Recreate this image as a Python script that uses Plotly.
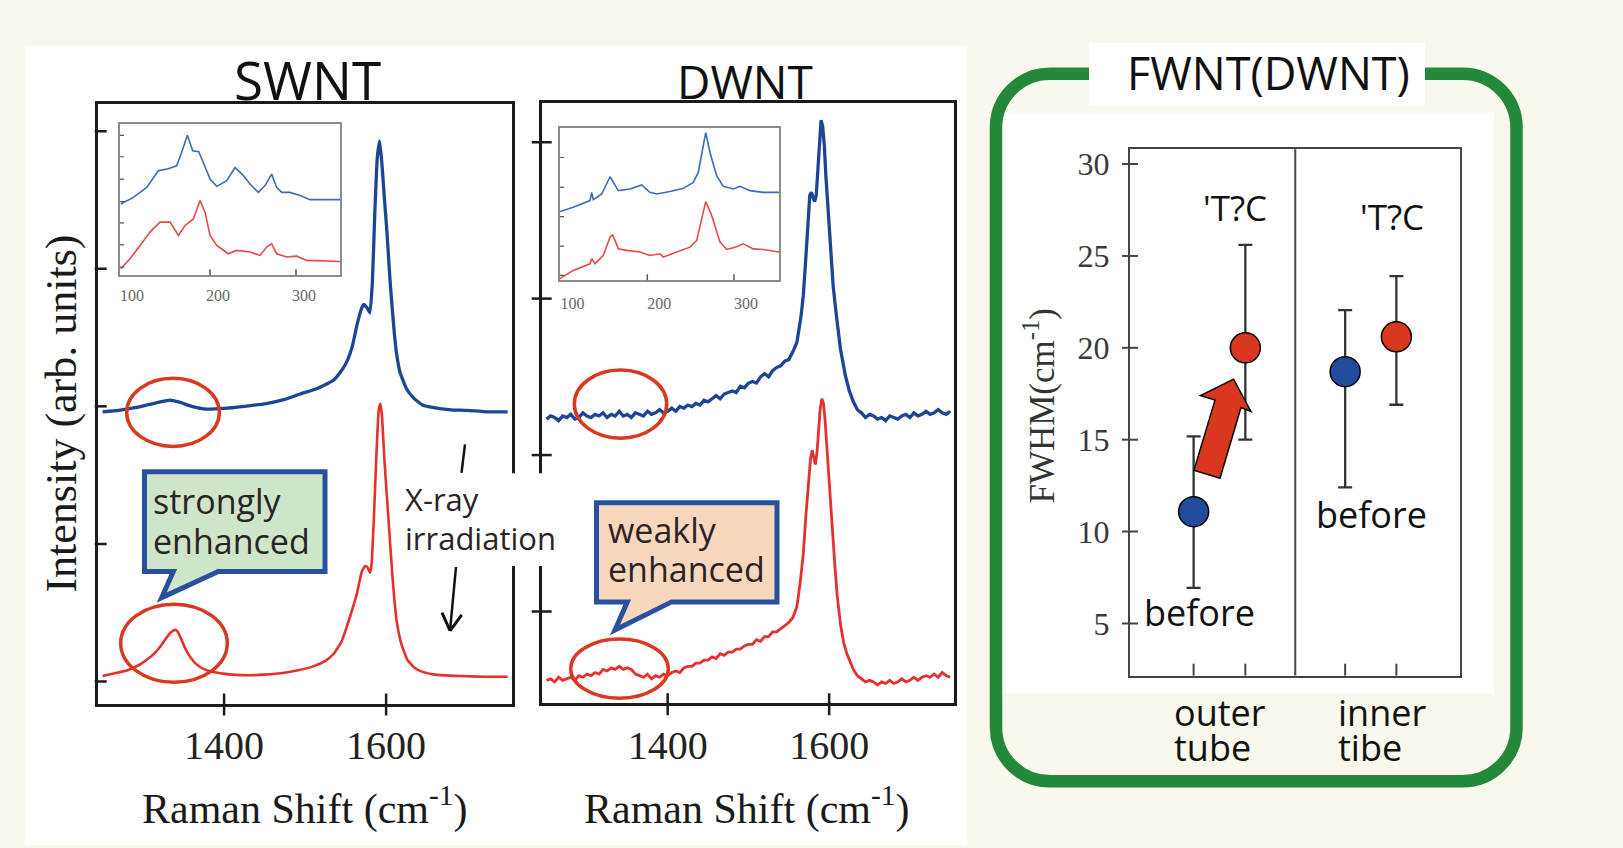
import plotly.graph_objects as go

W, H = 1623, 848

# ---------------- data ----------------
# SWNT G/D region, before irradiation (blue) and after (red); intensity in axis-tick units
swnt_pristine_x = [1250,1270,1290,1305,1320,1333,1345,1360,1378,1400,1425,1452,1475,1494,1515,1535,1545,1552,1558,1564,
                   1569,1572,1576,1580,1583,1586,1589,1592,1595,1598,1601,1605,1610,1613,1617,1625,1634,1645,1659,1680,
                   1700,1725,1750]
swnt_pristine_y = [1.96,1.97,1.99,2.01,2.03,2.045,2.03,2.0,1.98,1.985,2.0,2.02,2.05,2.09,2.13,2.19,2.26,2.33,2.43,2.59,
                   2.70,2.74,2.72,2.68,2.9,3.4,3.8,3.93,3.75,3.5,3.27,2.9,2.54,2.38,2.25,2.13,2.06,2.01,1.99,1.975,
                   1.97,1.96,1.96]
swnt_irr_x = [1250,1265,1280,1295,1305,1315,1322,1328,1333,1337,1340,1343,1347,1352,1358,1365,1375,1390,1410,1430,
              1450,1470,1490,1510,1525,1535,1545,1551,1557,1564,1570,1574,1577,1580,1582,1585,1588,1591,1593,1595,
              1598,1603,1608,1613,1619,1626,1635,1645,1660,1690,1720,1750]
swnt_irr_y = [0.04,0.06,0.08,0.12,0.16,0.21,0.26,0.31,0.35,0.37,0.375,0.36,0.31,0.24,0.18,0.13,0.09,0.065,0.05,0.045,
              0.05,0.06,0.08,0.11,0.15,0.20,0.29,0.39,0.50,0.64,0.80,0.84,0.83,0.79,0.85,1.2,1.65,1.98,2.02,1.92,
              1.6,1.17,0.75,0.44,0.27,0.16,0.10,0.07,0.05,0.04,0.035,0.035]

# DWNT G/D region
dwnt_pristine_x = [1250,1255,1260,1265,1270,1275,1280,1285,1290,1295,1300,1305,1310,1315,1320,1325,1330,1335,1340,1345,
                   1350,1355,1360,1365,1370,1375,1380,1385,1390,1395,1400,1405,1410,1415,1420,1425,1430,1435,1440,1445,
                   1450,1455,1460,1465,1470,1475,1480,1485,1490,1495,1500,1505,1510,1515,1520,1525,1530,1535,1540,1545,
                   1550,1555,1560,
                   1565,1568,1571,1574,1576,1578,1580,1582,1584,1586,1588,1590,1592,1594,1596,1599,1602,1605,1609,1614,
                   1620,1625,1630,1635,1640,1645,1650,1655,1660,1665,1670,1675,1680,1685,1690,1695,1700,1705,1710,1715,
                   1720,1725,1730,1735,1740,1745,1750]
dwnt_pristine_y = [1.23,1.25,1.24,1.22,1.25,1.24,1.26,1.23,1.24,1.27,1.25,1.24,1.26,1.25,1.27,1.24,1.26,1.25,1.28,1.25,
                   1.26,1.24,1.27,1.26,1.25,1.28,1.26,1.27,1.29,1.27,1.28,1.30,1.28,1.31,1.30,1.32,1.31,1.33,1.32,1.35,
                   1.34,1.36,1.38,1.36,1.39,1.40,1.41,1.40,1.44,1.43,1.46,1.47,1.46,1.50,1.52,1.50,1.54,1.56,1.57,1.60,
                   1.61,1.66,1.72,
                   1.88,2.02,2.25,2.51,2.66,2.68,2.65,2.62,2.66,2.85,3.02,3.14,3.10,2.98,2.78,2.53,2.28,2.08,1.89,1.68,
                   1.51,1.41,1.34,1.29,1.27,1.24,1.26,1.25,1.23,1.24,1.22,1.25,1.24,1.23,1.25,1.26,1.24,1.27,1.25,1.26,
                   1.28,1.26,1.27,1.29,1.27,1.26,1.28]
dwnt_irr_x = [1250,1255,1260,1265,1270,1275,1280,1285,1290,1295,1300,1305,1310,1315,1320,1325,1330,1335,1340,1345,
              1350,1355,1360,1365,1370,1375,1380,1385,1390,1395,1400,1405,1410,1415,1420,1425,1430,1435,1440,1445,
              1450,1455,1460,1465,1470,1475,1480,1485,1490,1495,1500,1505,1510,1515,1520,1525,1530,1535,1540,1545,
              1550,1555,1560,
              1564,1568,1571,1574,1577,1579,1581,1583,1585,1587,1589,1591,1593,1595,1598,1601,1604,1607,1610,1614,
              1618,1622,1626,1630,1635,
              1640,1645,1650,1655,1660,1665,1670,1675,1680,1685,1690,1695,1700,1705,1710,1715,1720,1725,1730,1735,
              1740,1745,1750]
dwnt_irr_y = [-0.44,-0.43,-0.45,-0.42,-0.44,-0.43,-0.42,-0.44,-0.41,-0.42,-0.40,-0.41,-0.39,-0.40,-0.37,-0.38,-0.36,-0.37,-0.35,-0.37,
              -0.36,-0.37,-0.40,-0.41,-0.42,-0.40,-0.43,-0.41,-0.42,-0.40,-0.41,-0.39,-0.38,-0.39,-0.36,-0.35,-0.35,-0.33,-0.33,-0.31,
              -0.31,-0.29,-0.30,-0.27,-0.28,-0.26,-0.26,-0.24,-0.24,-0.22,-0.21,-0.21,-0.18,-0.19,-0.16,-0.16,-0.13,-0.13,-0.11,-0.09,
              -0.07,-0.04,0.03,
              0.18,0.37,0.60,0.79,0.98,1.03,0.99,0.94,1.02,1.18,1.30,1.36,1.33,1.22,0.98,0.74,0.52,0.30,0.10,-0.08,
              -0.20,-0.27,-0.32,-0.37,-0.41,
              -0.43,-0.45,-0.44,-0.45,-0.47,-0.45,-0.46,-0.44,-0.46,-0.45,-0.43,-0.45,-0.44,-0.42,-0.44,-0.42,-0.41,-0.42,-0.40,-0.42,
              -0.39,-0.41,-0.42]

# RBM insets (normalised intensity)
swnt_rbm_pristine_x = [96.2,110.8,126.4,139.9,149.6,161.2,167.0,173.6,179.9,186.9,192.2,200,207.8,219.4,229.1,238.8,246.5,256.2,264,271.7,
                       277.5,283.4,293,304.7,316.3,335.7,351.2]
swnt_rbm_pristine_y = [0.472,0.516,0.582,0.692,0.703,0.725,0.813,0.927,0.824,0.818,0.747,0.637,0.589,0.627,0.714,0.66,0.604,0.549,0.594,0.67,
                       0.582,0.549,0.549,0.528,0.501,0.501,0.501]
swnt_rbm_irr_x = [96.2,107.0,118.6,130.2,141.9,153.5,163.2,170.9,180.6,188.4,194.2,200,207.8,221.3,231,246.5,258.1,265.9,271.7,277.5,
                  289.2,300.8,312.4,335.7,351.2]
swnt_rbm_irr_y = [0.044,0.11,0.198,0.286,0.352,0.352,0.264,0.33,0.373,0.495,0.418,0.264,0.198,0.143,0.165,0.154,0.132,0.187,0.209,0.143,
                  0.121,0.127,0.099,0.094,0.092]
dwnt_rbm_pristine_x = [99.3,114.6,133.9,135.9,137.7,147.4,157,164.7,166.6,180,193.5,203.1,210.8,226.2,241.5,253.1,258.8,264.6,267.4,272.3,
                       280,287.7,299.2,306.9,318.5,333.8,352.3]
dwnt_rbm_pristine_y = [0.45,0.478,0.522,0.576,0.528,0.565,0.678,0.609,0.587,0.598,0.624,0.576,0.565,0.581,0.602,0.641,0.706,0.881,0.967,0.837,
                       0.685,0.615,0.598,0.615,0.587,0.576,0.576]
dwnt_rbm_irr_x = [99.3,114.6,133.9,135.9,139.7,149.3,157,160.1,166.6,176.2,191.6,203.1,214.6,218.5,233.9,249.3,257,262.7,267.4,274.3,
                  283.9,291.6,301.2,310.7,322.3,333.8,352.3]
dwnt_rbm_irr_y = [0.011,0.065,0.108,0.141,0.108,0.163,0.282,0.297,0.206,0.196,0.185,0.163,0.174,0.152,0.185,0.217,0.261,0.402,0.515,0.424,
                  0.25,0.202,0.217,0.239,0.206,0.202,0.185]

main_xticks = [1400, 1600]
swnt_yticks = [0, 1, 2, 3, 4]
dwnt_yticks = [0, 1, 2, 3]
inset_xticks = [100, 200, 300]
swnt_inset_yticks = [0.055, 0.202, 0.347, 0.488, 0.637, 0.785, 0.927]
dwnt_inset_yticks = [0.033, 0.224, 0.417, 0.609, 0.804]

# FWHM panel
fwhm_groups = ["outer tube", "inner tibe"]
fwhm_pos_before = [1.0, 3.93]
fwhm_pos_after = [2.0, 4.92]
fwhm_before = [11.08, 18.7]
fwhm_before_plus = [4.1, 3.35]
fwhm_before_minus = [4.15, 6.3]
fwhm_after = [20.0, 20.6]
fwhm_after_plus = [5.6, 3.3]
fwhm_after_minus = [5.0, 3.7]
fwhm_yticks = [5, 10, 15, 20, 25, 30]

# ---------------- style ----------------
SANS = "Open Sans"
SERIF = "Liberation Serif"
INK = "#1b1b1b"
BLUE = "#1d4596"
RED = "#e5302b"
IBLUE = "#3d6bb8"
IRED = "#e64a48"
ELL = "#d83a1f"
CREAM = "#f8f8ec"
GREEN = "#24883b"
TXT = "#2b2324"


def PX(x):
    return x / W


def PY(y):
    return 1 - y / H


def dx(a, b):
    return [a / W, b / W]


def dy(top, bottom):
    return [1 - bottom / H, 1 - top / H]


def pt(x, y):
    return f"{PX(x):.5f},{PY(y):.5f}"


fig = go.Figure()

# main spectra
fig.add_trace(go.Scatter(x=swnt_pristine_x, y=swnt_pristine_y, mode="lines",
                         line=dict(color=BLUE, width=3.3, shape="spline", smoothing=0.4), xaxis="x", yaxis="y"))
fig.add_trace(go.Scatter(x=swnt_irr_x, y=swnt_irr_y, mode="lines",
                         line=dict(color=RED, width=2.6, shape="spline", smoothing=0.4), xaxis="x", yaxis="y"))
fig.add_trace(go.Scatter(x=dwnt_pristine_x, y=dwnt_pristine_y, mode="lines",
                         line=dict(color=BLUE, width=3.3), xaxis="x3", yaxis="y3"))
fig.add_trace(go.Scatter(x=dwnt_irr_x, y=dwnt_irr_y, mode="lines",
                         line=dict(color=RED, width=2.8), xaxis="x3", yaxis="y3"))
# insets
for xs, ys, c, xa, ya in [(swnt_rbm_pristine_x, swnt_rbm_pristine_y, IBLUE, "x2", "y2"),
                          (swnt_rbm_irr_x, swnt_rbm_irr_y, IRED, "x2", "y2"),
                          (dwnt_rbm_pristine_x, dwnt_rbm_pristine_y, IBLUE, "x4", "y4"),
                          (dwnt_rbm_irr_x, dwnt_rbm_irr_y, IRED, "x4", "y4")]:
    fig.add_trace(go.Scatter(x=xs, y=ys, mode="lines", line=dict(color=c, width=1.6),
                             xaxis=xa, yaxis=ya))

# FWHM points
fig.add_trace(go.Scatter(x=fwhm_pos_before, y=fwhm_before, mode="markers", name="before",
                         marker=dict(size=30, color="#234b9b", line=dict(color="black", width=1.5)),
                         error_y=dict(type="data", symmetric=False, array=fwhm_before_plus,
                                      arrayminus=fwhm_before_minus, color="#333333", thickness=2.3, width=7),
                         xaxis="x5", yaxis="y5"))
fig.add_trace(go.Scatter(x=fwhm_pos_after, y=fwhm_after, mode="markers", name="after",
                         marker=dict(size=30, color="#d9381e", line=dict(color="black", width=1.5)),
                         error_y=dict(type="data", symmetric=False, array=fwhm_after_plus,
                                      arrayminus=fwhm_after_minus, color="#333333", thickness=2.3, width=7),
                         xaxis="x5", yaxis="y5"))

common = dict(showgrid=False, zeroline=False, ticks="", showline=True, mirror=True)

layout_axes = dict(
    xaxis=dict(domain=dx(97.7, 511.7), range=[1244, 1755], anchor="y", linecolor=INK, linewidth=2.5,
               tickvals=main_xticks, tickfont=dict(family=SERIF, size=40, color="#222"),
               ticklabelstandoff=5, **common),
    yaxis=dict(domain=dy(101, 703), range=[-0.16, 4.2], anchor="x", linecolor=INK, linewidth=2.5,
               showticklabels=False, **common),
    xaxis2=dict(domain=dx(120, 340), range=[95.3, 351.2], anchor="y2", linecolor="#8c8c8c", linewidth=1.5,
                tickvals=inset_xticks, tickfont=dict(family=SERIF, size=16, color="#666"),
                ticklabelshift=8, ticklabelstandoff=5, **common),
    yaxis2=dict(domain=dy(121.7, 273.3), range=[0, 1], anchor="x2", linecolor="#8c8c8c", linewidth=1.5,
                showticklabels=False, **common),
    xaxis3=dict(domain=dx(541.7, 954.3), range=[1244, 1755], anchor="y3", linecolor=INK, linewidth=2.5,
                tickvals=main_xticks, tickfont=dict(family=SERIF, size=40, color="#222"),
                ticklabelstandoff=5, **common),
    yaxis3=dict(domain=dy(100.7, 702.7), range=[-0.586, 3.248], anchor="x3", linecolor=INK, linewidth=2.5,
                showticklabels=False, **common),
    xaxis4=dict(domain=dx(560, 779.3), range=[99.3, 352.3], anchor="y4", linecolor="#8c8c8c", linewidth=1.5,
                tickvals=inset_xticks, tickfont=dict(family=SERIF, size=16, color="#666"),
                ticklabelshift=12, ticklabelstandoff=8, **common),
    yaxis4=dict(domain=dy(125, 278.3), range=[0, 1], anchor="x4", linecolor="#8c8c8c", linewidth=1.5,
                showticklabels=False, **common),
    xaxis5=dict(domain=dx(1130, 1460), range=[-0.23, 6.15], anchor="y5", linecolor="#444", linewidth=2,
                showticklabels=False, **common),
    yaxis5=dict(domain=dy(146.7, 675), range=[2.16, 30.81], anchor="x5", linecolor="#444", linewidth=2,
                tickvals=fwhm_yticks, tickfont=dict(family=SERIF, size=32, color="#3a3a3a"),
                ticklabelstandoff=12, **common),
)

shapes = []
# backgrounds
shapes.append(dict(type="rect", xref="paper", yref="paper", x0=PX(25), x1=PX(967), y0=PY(845), y1=PY(43),
                   fillcolor="white", line=dict(width=0), layer="below"))
shapes.append(dict(type="rect", xref="paper", yref="paper", x0=PX(1001), x1=PX(1494), y0=PY(693), y1=PY(110),
                   fillcolor="white", line=dict(width=0), layer="below"))
# green rounded frame
L, R, T, B, r = 996, 1516.5, 71, 781, 54
k = 0.5523 * r
gpath = (f"M {pt(L + r, T)} L {pt(R - r, T)} C {pt(R - r + k, T)} {pt(R, T + r - k)} {pt(R, T + r)} "
         f"L {pt(R, B - r)} C {pt(R, B - r + k)} {pt(R - r + k, B)} {pt(R - r, B)} "
         f"L {pt(L + r, B)} C {pt(L + r - k, B)} {pt(L, B - r + k)} {pt(L, B - r)} "
         f"L {pt(L, T + r)} C {pt(L, T + r - k)} {pt(L + r - k, T)} {pt(L + r, T)} Z")
shapes.append(dict(type="path", xref="paper", yref="paper", path=gpath, line=dict(color=GREEN, width=12.5),
                   layer="below"))
shapes.append(dict(type="rect", xref="paper", yref="paper", x0=PX(1089), x1=PX(1425), y0=PY(103), y1=PY(40),
                   fillcolor="white", line=dict(width=0), layer="below"))


# tick marks (crossing the axes)
def yticks(xa, ya, vals, out_px, in_px, width_px, color, w):
    for v in vals:
        shapes.append(dict(type="line", xref=f"{xa} domain", yref=ya, x0=-out_px / width_px, x1=in_px / width_px,
                           y0=v, y1=v, line=dict(color=color, width=w)))


def xticks(xa, ya, vals, out_px, in_px, height_px, color, w):
    for v in vals:
        shapes.append(dict(type="line", xref=xa, yref=f"{ya} domain", x0=v, x1=v, y0=-out_px / height_px,
                           y1=in_px / height_px, line=dict(color=color, width=w)))


yticks("x", "y", swnt_yticks, 3, 9, 414, INK, 2.5)
xticks("x", "y", main_xticks, 12, 10, 602, INK, 2.5)
yticks("x3", "y3", dwnt_yticks, 10, 10, 412.6, INK, 2.5)
xticks("x3", "y3", main_xticks, 12, 10, 602, INK, 2.5)
yticks("x2", "y2", swnt_inset_yticks, 0, 4, 220, "#555", 1.2)
xticks("x2", "y2", inset_xticks[1:], 0, 6, 151.6, "#555", 1.5)
yticks("x4", "y4", dwnt_inset_yticks, 0, 4, 219.3, "#555", 1.2)
xticks("x4", "y4", inset_xticks[1:], 0, 6, 153.3, "#555", 1.5)
yticks("x5", "y5", fwhm_yticks, 8, 8, 330, "#444", 2)
xticks("x5", "y5", fwhm_pos_before + fwhm_pos_after, 0, 12, 528.3, "#444", 2)
# divider between outer / inner groups
shapes.append(dict(type="line", xref="x5", yref="y5 domain", x0=(fwhm_pos_after[0] + fwhm_pos_before[1]) / 2,
                   x1=(fwhm_pos_after[0] + fwhm_pos_before[1]) / 2, y0=0, y1=1, line=dict(color="#444", width=2)))

# red ellipses
for (x0, y0, x1, y1) in [(126.7, 376.7, 219.3, 445), (120.7, 603.3, 227.3, 681.7),
                         (574.3, 368.3, 666.7, 436.7), (570.7, 638.3, 668.3, 697.7)]:
    shapes.append(dict(type="circle", xref="paper", yref="paper", x0=PX(x0), x1=PX(x1), y0=PY(y1), y1=PY(y0),
                       line=dict(color=ELL, width=3.5), layer="above"))


# callouts
def callout(l, t, rr, b, tail, fill):
    p = (f"M {pt(l, t)} L {pt(rr, t)} L {pt(rr, b)} L {pt(tail[2], b)} L {pt(tail[0], tail[1])} "
         f"L {pt(tail[3], b)} L {pt(l, b)} Z")
    shapes.append(dict(type="path", xref="paper", yref="paper", path=p, fillcolor=fill,
                       line=dict(color="#28509f", width=5), layer="above"))


callout(144.5, 470.5, 325, 570.5, (161.7, 596.7, 218.3, 173.3), "#cfe5c9")
callout(596.5, 501.5, 777, 601, (615, 629.3, 671.7, 627.3), "#f8d8bd")

# X-ray label backdrop and arrows
shapes.append(dict(type="rect", xref="paper", yref="paper", x0=PX(398), x1=PX(568), y0=PY(565), y1=PY(472),
                   fillcolor="white", line=dict(width=0), layer="above"))
for (x0, y0, x1, y1, w) in [(465, 443, 461.5, 471.5, 2.5), (456, 566, 450, 630, 2.5),
                            (442, 611.7, 450, 630, 3), (461.7, 614, 450, 630, 3)]:
    shapes.append(dict(type="line", xref="paper", yref="paper", x0=PX(x0), y0=PY(y0), x1=PX(x1), y1=PY(y1),
                       line=dict(color="#111", width=w), layer="above"))

# red block arrow in FWHM panel
arrow_pts = [(1233.5, 377.5), (1251, 410), (1241, 406), (1220, 477), (1194, 469), (1215, 398.5), (1200.5, 394)]
apath = "M " + " L ".join(pt(x, y) for x, y in arrow_pts) + " Z"
shapes.append(dict(type="path", xref="paper", yref="paper", path=apath, fillcolor="#d9381e",
                   line=dict(color="black", width=1.5), layer="above"))

annotations = []


def txt(x, y, s, size, family=SANS, color=TXT, xanchor="center", angle=0):
    annotations.append(dict(x=PX(x), y=PY(y), xref="paper", yref="paper", text=s, showarrow=False,
                            font=dict(family=family, size=size, color=color), xanchor=xanchor,
                            yanchor="middle", textangle=angle))


txt(307.5, 77, "SWNT", 53, color="#111")
txt(745, 78, "DWNT", 46, color="#111")
txt(62, 412, "Intensity (arb. units)", 44, family=SERIF, color="#1a1a1a", angle=-90)
txt(304, 806, "Raman Shift (cm<sup>-1</sup>)", 42, family=SERIF, color="#1a1a1a")
txt(746, 806, "Raman Shift (cm<sup>-1</sup>)", 42, family=SERIF, color="#1a1a1a")
txt(151, 500, "strongly", 34, xanchor="left")
txt(151, 540, "enhanced", 34, xanchor="left")
txt(606, 529, "weakly", 34, xanchor="left")
txt(606, 568, "enhanced", 34, xanchor="left")
txt(403, 498, "X-ray", 31, xanchor="left")
txt(403, 537, "irradiation", 31, xanchor="left")
txt(1268, 70, "FWNT(DWNT)", 45, color="#111")
txt(1235, 205, "'T?C", 35, color="#111")
txt(1392, 214, "'T?C", 35, color="#111")
txt(1199, 612, "before", 36, color="#111")
txt(1371, 513, "before", 36, color="#111")
txt(1172, 712, fwhm_groups[0].split()[0], 36, color="#111", xanchor="left")
txt(1172, 747, fwhm_groups[0].split()[1], 36, color="#111", xanchor="left")
txt(1336, 712, fwhm_groups[1].split()[0], 36, color="#111", xanchor="left")
txt(1336, 747, fwhm_groups[1].split()[1], 36, color="#111", xanchor="left")
txt(1040, 405, "FWHM(cm<sup>-1</sup>)", 35, family=SERIF, color="#333", angle=-90)

fig.update_layout(width=W, height=H, margin=dict(l=0, r=0, t=0, b=0, pad=0), paper_bgcolor=CREAM,
                  plot_bgcolor="white", showlegend=False, shapes=shapes, annotations=annotations,
                  **layout_axes)

fig.write_html("out.html")
